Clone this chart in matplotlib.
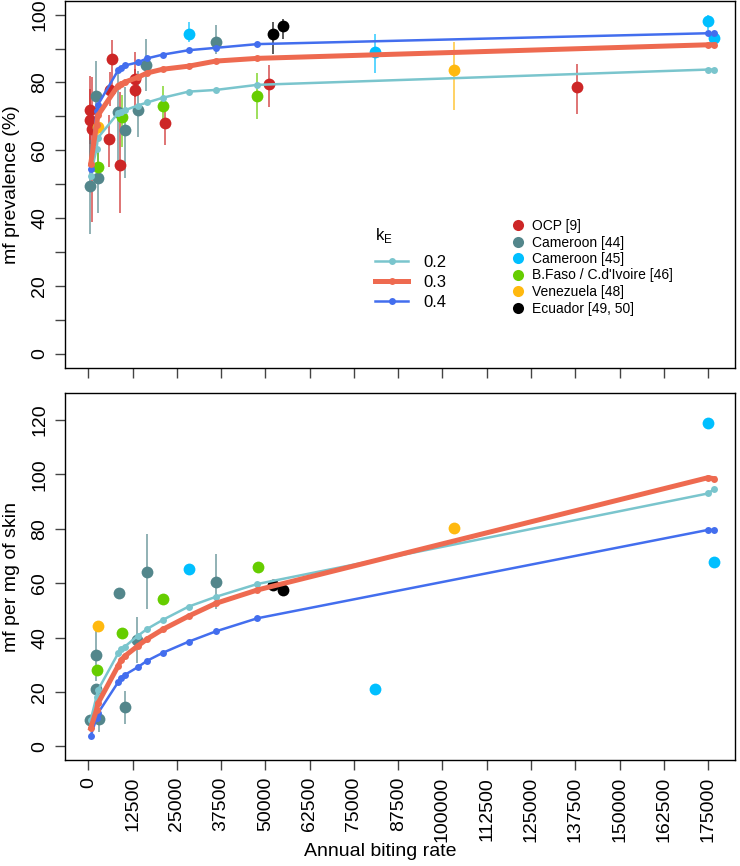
import matplotlib
matplotlib.use("Agg")
import matplotlib.pyplot as plt
from matplotlib.lines import Line2D
from matplotlib.ticker import FixedLocator, NullFormatter

plt.rcParams['font.family'] = ['Liberation Sans', 'DejaVu Sans']

# model runs, one point per simulated annual biting rate
model_abr = [650, 2300, 2700, 8400, 9300, 10300, 13900, 16600, 21000,
             28300, 36000, 47700, 175000, 176700]
prev_k02 = [52.5, 60.5, 63.7, 71.0, 71.3, 71.8, 73.2, 74.1, 75.5, 77.3, 77.8, 79.3, 83.8, 83.8]
prev_k03 = [55.9, 67.5, 70.3, 79.1, 79.6, 80.1, 81.5, 82.8, 83.9, 84.8, 86.3, 87.1, 91.1, 91.1]
prev_k04 = [54.5, 71.5, 73.4, 83.6, 84.3, 85.0, 85.9, 87.1, 88.2, 89.5, 90.2, 91.3, 94.5, 94.5]
dens_k02 = [9.7, 18.3, 20.7, 34.2, 35.7, 36.7, 40.6, 43.2, 46.5, 51.4, 55.0, 59.7, 93.0, 94.6]
dens_k03 = [6.7, 13.4, 15.8, 29.6, 31.8, 33.2, 36.9, 39.5, 43.0, 47.9, 52.6, 57.5, 98.8, 98.4]
dens_k04 = [3.9, 10.3, 12.2, 23.6, 25.0, 26.3, 29.1, 31.5, 34.4, 38.5, 42.3, 47.1, 79.6, 79.6]

# observed mf prevalence (%) with 95% CI
ocp_abr = [540, 540, 1100, 5900, 6100, 6750, 8900, 13100, 13300, 21500, 50900, 138000]
ocp_prev = [72.0, 69.0, 66.3, 63.4, 77.9, 86.8, 55.8, 81.1, 77.9, 68.1, 79.6, 78.8]
ocp_lo = [62.0, 56.0, 39.0, 55.1, 73.0, 78.6, 41.4, 75.7, 72.0, 61.5, 72.7, 70.7]
ocp_hi = [82.0, 78.0, 81.6, 70.3, 83.0, 92.4, 77.1, 88.9, 84.0, 73.7, 85.2, 85.4]

c44_abr = [540, 2140, 2800, 8500, 10300, 13900, 16400, 35900]
c44_prev = [49.6, 75.9, 51.8, 71.3, 65.9, 71.8, 85.2, 91.9]
c44_lo = [35.5, 64.0, 41.4, 57.0, 51.8, 63.9, 77.6, 88.4]
c44_hi = [63.0, 86.2, 61.0, 83.0, 78.6, 83.5, 92.8, 96.8]

c45_abr = [28300, 81000, 175000, 176700]
c45_prev = [94.3, 88.9, 98.0, 93.0]
c45_lo = [91.9, 82.8, 95.5, 91.0]
c45_hi = [97.7, 94.3, 99.8, 95.0]

bf_abr = [2600, 9400, 21100, 47700]
bf_prev = [55.0, 69.8, 73.0, 76.0]
bf_lo = [50.0, 61.0, 68.8, 69.3]
bf_hi = [61.0, 76.2, 79.1, 82.7]

ven_abr = [2700, 103300]
ven_prev = [66.9, 83.6]
ven_lo = [63.0, 71.9]
ven_hi = [70.0, 92.0]

ecu_abr = [52000, 55000]
ecu_prev = [94.2, 96.5]
ecu_lo = [88.4, 92.9]
ecu_hi = [97.7, 98.7]

# observed mf per mg of skin
c44_dabr = [540, 2140, 2200, 3000, 8700, 10300, 13800, 16600, 35900]
c44_dens = [9.7, 33.6, 21.1, 10.0, 56.3, 14.4, 39.2, 64.1, 60.6]
c44_dlo = [9.7, 24.0, 21.1, 5.4, 56.3, 8.2, 30.6, 50.4, 50.4]
c44_dhi = [9.7, 43.0, 21.1, 12.8, 56.3, 20.5, 47.7, 78.0, 70.6]

c45_dabr = [28300, 81000, 175000, 176700]
c45_dens = [65.2, 21.0, 119.0, 67.7]

bf_dabr = [2340, 9400, 21100, 47800]
bf_dens = [28.1, 41.6, 54.2, 66.1]

ven_dabr = [2700, 103300]
ven_dens = [44.4, 80.3]

ecu_dabr = [52000, 55000]
ecu_dens = [59.3, 57.4]

data_labels = ["OCP [9]", "Cameroon [44]", "Cameroon [45]",
               "B.Faso / C.d'Ivoire [46]", "Venezuela [48]", "Ecuador [49, 50]"]
data_colors = ['#CD2626', '#53868B', '#00BFFF', '#66CD00', '#FFB90F', 'black']
k_labels = ['0.2', '0.3', '0.4']
k_colors = ['#7AC5CD', '#EE6A50', '#436EEE']
k_widths = [1.8, 3.6, 1.8]

W, H = 740, 866


def add_points(ax, x, y, color, lo=None, hi=None):
    if lo is not None:
        ax.vlines(x, lo, hi, color=color, lw=1.2, alpha=0.75, zorder=2)
    ax.plot(x, y, 'o', ls='', color=color, ms=8.5, mew=0, zorder=2.5)


def add_model(ax, ys):
    for ys_k, c, lw in zip(ys, k_colors, k_widths):
        z = 4 if lw > 2 else 3
        ax.plot(model_abr, ys_k, '-o', color=c, lw=lw, ms=5, mew=0, zorder=z)


def style_axes(ax):
    for s in ax.spines.values():
        s.set_linewidth(1.0)
    ax.tick_params(axis='both', which='both', direction='out', length=7.2,
                   width=1.0, color='#444444', labelsize=14, pad=5)
    ax.tick_params(axis='y', labelrotation=90)
    ax.set_xlim(-6600, 182600)
    xt = [12500 * i for i in range(15)]
    ax.set_xticks(xt)
    ax.set_xticklabels([str(v) for v in xt], rotation=90)


fig = plt.figure(figsize=(W / 100, H / 100), dpi=100)
ax1 = fig.add_axes([65 / W, 1 - 367.6 / H, 670 / W, 366.6 / H])
ax2 = fig.add_axes([65 / W, 1 - 760 / H, 670 / W, 367.2 / H])

# top panel: prevalence
add_points(ax1, ocp_abr, ocp_prev, data_colors[0], ocp_lo, ocp_hi)
add_points(ax1, c44_abr, c44_prev, data_colors[1], c44_lo, c44_hi)
add_points(ax1, c45_abr, c45_prev, data_colors[2], c45_lo, c45_hi)
add_points(ax1, bf_abr, bf_prev, data_colors[3], bf_lo, bf_hi)
add_points(ax1, ven_abr, ven_prev, data_colors[4], ven_lo, ven_hi)
add_points(ax1, ecu_abr, ecu_prev, data_colors[5], ecu_lo, ecu_hi)
add_model(ax1, [prev_k02, prev_k03, prev_k04])
style_axes(ax1)
ax1.set_ylim(-4, 104)
ax1.yaxis.set_major_locator(FixedLocator([0, 20, 40, 60, 80, 100]))
ax1.yaxis.set_minor_locator(FixedLocator([10, 30, 50, 70, 90]))
ax1.yaxis.set_minor_formatter(NullFormatter())
ax1.tick_params(axis='x', labelbottom=False)
for lab in ax1.get_yticklabels():
    lab.set_va('center')

# bottom panel: mf density
add_points(ax2, c44_dabr, c44_dens, data_colors[1], c44_dlo, c44_dhi)
add_points(ax2, c45_dabr, c45_dens, data_colors[2])
add_points(ax2, bf_dabr, bf_dens, data_colors[3])
add_points(ax2, ven_dabr, ven_dens, data_colors[4])
add_points(ax2, ecu_dabr, ecu_dens, data_colors[5])
add_model(ax2, [dens_k02, dens_k03, dens_k04])
style_axes(ax2)
ax2.set_ylim(-5, 130)
ax2.set_yticks([0, 20, 40, 60, 80, 100, 120])
for lab in ax2.get_yticklabels():
    lab.set_va('center')

# axis titles
fig.text(12 / W, 1 - 185 / H, "mf prevalence (%)", rotation=90,
         ha='center', va='center', fontsize=14)
fig.text(12 / W, 1 - 577 / H, "mf per mg of skin", rotation=90,
         ha='center', va='center', fontsize=14)
fig.text(380 / W, 1 - 851 / H, "Annual biting rate", ha='center',
         va='center', fontsize=14)

# legends
k_handles = [Line2D([], [], color=c, lw=lw, marker='o', ms=5, mew=0)
             for c, lw in zip(k_colors, k_widths)]
leg1 = ax1.legend(k_handles, k_labels, loc='upper left', frameon=False,
                  fontsize=12, handlelength=2.0, handletextpad=0.9,
                  labelspacing=0.3, borderpad=0, borderaxespad=0,
                  bbox_to_anchor=(375 / W, 1 - 255 / H),
                  bbox_transform=fig.transFigure)
ax1.add_artist(leg1)
fig.text(384 / W, 1 - 236 / H, "k$_\\mathregular{E}$", ha='center',
         va='center', fontsize=12)

d_handles = [Line2D([], [], color=c, ls='', marker='o', ms=8, mew=0)
             for c in data_colors]
ax1.legend(d_handles, data_labels, loc='upper left', frameon=False,
           fontsize=10, handlelength=1.0, handletextpad=0.5,
           labelspacing=0.18, borderpad=0, borderaxespad=0,
           bbox_to_anchor=(511 / W, 1 - 219 / H),
           bbox_transform=fig.transFigure)

fig.savefig("out.png", dpi=100)
